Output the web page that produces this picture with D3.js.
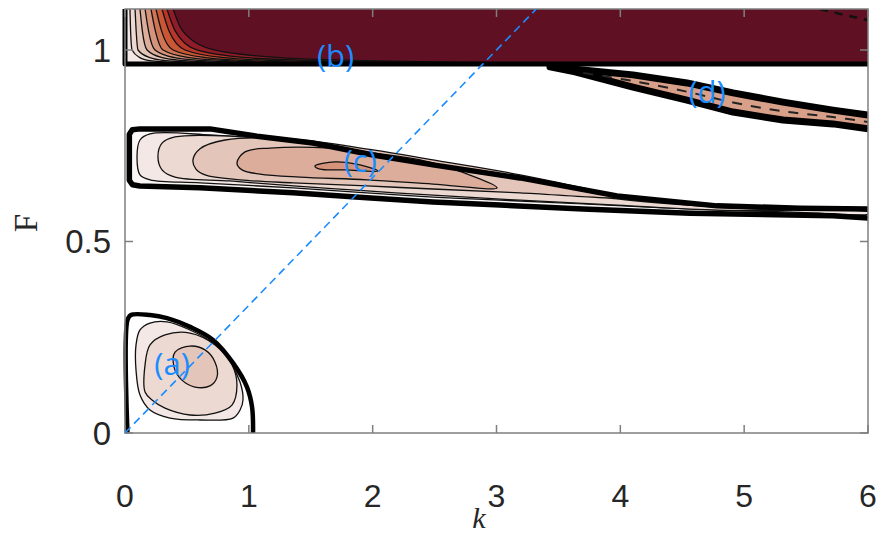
<!DOCTYPE html>
<html><head><meta charset="utf-8">
<script src="https://cdn.jsdelivr.net/npm/d3@7"></script>
<style>body{margin:0;background:#fff}</style>
</head><body><svg id="chart" width="883" height="535"></svg>
<script>
// ---------- data ----------
const kTicks = [0, 1, 2, 3, 4, 5, 6];
const fTicks = [0, 0.5, 1];
const fTickLabels = ["0", "0.5", "1"];
const kDomain = [0, 6];
const fDomain = [0, 1.107];
const levelColors = ["#ffffff", "#f3e8e5", "#ecd9d2", "#e4c5b9", "#dcad9b", "#d5937b",
                     "#cf7454", "#c95634", "#b8362a", "#901c2a", "#5f1022"];

// region (b): band of high values near F ~ 1
const bandBBottom = 0.9635;
const bandBCurves = [
  [[0.040,1.107],[0.045,1.05],[0.057,1.0],[0.12,0.98],[0.2,0.972],[0.4,0.967]],
  [[0.081,1.107],[0.09,1.05],[0.105,1.0],[0.2,0.98],[0.33,0.972],[0.6,0.967]],
  [[0.121,1.107],[0.14,1.05],[0.178,1.0],[0.3,0.98],[0.48,0.972],[0.8,0.967]],
  [[0.162,1.107],[0.19,1.05],[0.242,1.0],[0.4,0.98],[0.64,0.972],[1.05,0.967]],
  [[0.210,1.107],[0.245,1.05],[0.307,1.0],[0.52,0.98],[0.82,0.972],[1.3,0.967]],
  [[0.250,1.107],[0.295,1.05],[0.388,1.0],[0.65,0.98],[1.0,0.972],[1.6,0.967]],
  [[0.299,1.107],[0.355,1.05],[0.485,1.0],[0.8,0.98],[1.25,0.972],[2.0,0.967]],
  [[0.339,1.107],[0.405,1.05],[0.581,1.0],[0.98,0.98],[1.55,0.972],[2.5,0.967]],
  [[0.388,1.107],[0.465,1.05],[0.72,1.0],[1.25,0.98],[1.95,0.972],[3.0,0.967]]
];
const bandBLevels = [2, 3, 4, 5, 6, 7, 8, 9, 10];
const bandBDash = [[5.613,1.107],[5.8,1.092],[6.0,1.078]];

// region (c): tongue (outer boundary: bottom edge right->left, left side, top edge left->right)
const regionCOuter = [
  [6.0,0.561],[5.717,0.567],[4.563,0.574],[3.699,0.585],[3.028,0.595],[2.487,0.603],
  [1.954,0.614],[1.357,0.627],[0.606,0.640],[0.12,0.645],[0.06,0.648],[0.035,0.660],
  [0.035,0.780],[0.06,0.792],[0.12,0.794],[0.686,0.794],[1.066,0.775],[1.518,0.757],
  [2.003,0.726],[2.487,0.700],[3.190,0.666],[3.973,0.619],[4.781,0.593],[5.451,0.587],[6.0,0.585]
];
const regionCLevels = [
  [[0.097,0.721],[0.121,0.765],[0.202,0.781],[0.686,0.778],[1.413,0.757],[2.003,0.723],
   [2.487,0.695],[3.190,0.661],[3.973,0.614],[4.781,0.590],[5.451,0.582],[6.0,0.577],
   [6.0,0.572],[5.451,0.576],[4.563,0.585],[3.699,0.598],[3.028,0.608],[2.487,0.616],
   [1.954,0.627],[1.357,0.640],[0.606,0.653],[0.202,0.661],[0.121,0.674]],
  [[0.266,0.721],[0.299,0.757],[0.404,0.773],[0.848,0.775],[1.413,0.755],[2.003,0.718],
   [2.487,0.689],[3.190,0.653],[3.973,0.611],[4.781,0.590],[5.394,0.582],[4.781,0.582],
   [3.973,0.595],[3.190,0.608],[2.487,0.621],[1.954,0.632],[1.357,0.645],[0.848,0.658],
   [0.404,0.668],[0.299,0.687]],
  [[0.549,0.713],[0.606,0.742],[0.808,0.765],[1.332,0.768],[2.003,0.739],[2.487,0.713],
   [3.190,0.674],[3.973,0.616],[3.190,0.627],[2.487,0.637],[1.954,0.645],[1.357,0.653],
   [0.929,0.661],[0.646,0.674],[0.573,0.689]],
  [[0.904,0.705],[0.969,0.734],[1.171,0.744],[1.656,0.744],[2.003,0.731],[2.487,0.705],
   [3.004,0.640],[2.487,0.650],[1.954,0.661],[1.413,0.668],[1.090,0.676],[0.945,0.687]],
  [[1.534,0.697],[1.696,0.708],[1.898,0.700],[2.043,0.684],[1.777,0.687],[1.575,0.689]]
];
const regionCFill = [1, 2, 3, 4, 5];

// region (d): thin band upper right (lower edge right->left, tip, upper edge left->right)
const regionD = [
  [6.0,0.794],[5.717,0.807],[5.314,0.817],[4.910,0.838],[4.538,0.869],[4.102,0.903],[3.634,0.943],
  [3.432,0.956],[4.102,0.935],[4.538,0.914],[4.910,0.888],[5.314,0.864],[5.717,0.843],[6.0,0.830]
];
const regionDMid = [[3.7,0.94],[4.102,0.919],[4.538,0.891],[4.910,0.863],[5.314,0.840],[5.717,0.825],[6.0,0.812]];

// region (a): near origin
const regionAOuter = [
  [0.02,0],[0.02,0.295],[0.048,0.308],[0.202,0.308],[0.339,0.300],[0.525,0.277],
  [0.711,0.243],[0.872,0.183],[0.985,0.120],[1.026,0.068],[1.034,0]
];
const regionALevels = [
  [[0.089,0.164],[0.089,0.230],[0.121,0.269],[0.202,0.287],[0.339,0.290],[0.525,0.269],
   [0.711,0.235],[0.848,0.185],[0.929,0.133],[0.953,0.086],[0.929,0.060],[0.872,0.039],
   [0.606,0.034],[0.363,0.039],[0.202,0.060],[0.121,0.099]],
  [[0.162,0.107],[0.162,0.178],[0.202,0.230],[0.323,0.256],[0.525,0.261],[0.727,0.230],
   [0.864,0.178],[0.904,0.125],[0.864,0.073],[0.727,0.052],[0.525,0.047],[0.323,0.065],
   [0.218,0.086]],
  [[0.396,0.172],[0.404,0.211],[0.525,0.227],[0.646,0.217],[0.727,0.185],[0.743,0.146],
   [0.686,0.123],[0.565,0.120],[0.460,0.138]]
];
const regionAFill = [1, 2, 3];

// dashed guide line F = k/3
const guideLine = [[0, 0], [3.321, 1.107]];

// labels
const regionLabels = [
  {text: "(a)", k: 0.38, F: 0.152},
  {text: "(b)", k: 1.7, F: 0.955},
  {text: "(c)", k: 1.9, F: 0.682},
  {text: "(d)", k: 4.7, F: 0.862}
];

// ---------- drawing ----------
const svg = d3.select("#chart");
const x = d3.scaleLinear().domain(kDomain).range([125, 868]);
const y = d3.scaleLinear().domain(fDomain).range([433, 9]);
const x0 = x.range()[0], x1 = x.range()[1], y0 = y.range()[0], y1 = y.range()[1];

const defs = svg.append("defs");
defs.append("clipPath").attr("id", "clip").append("rect")
  .attr("x", x0 - 3).attr("y", y1).attr("width", x1 - x0 + 3).attr("height", y0 - y1);
defs.append("clipPath").attr("id", "clipIn").append("rect")
  .attr("x", x0).attr("y", y1).attr("width", x1 - x0).attr("height", y0 - y1);

const g = svg.append("g").attr("clip-path", "url(#clip)");

const lineOpen = d3.line().x(d => x(d[0])).y(d => y(d[1]));
const lineSmooth = d3.line().x(d => x(d[0])).y(d => y(d[1])).curve(d3.curveMonotoneX);
const closedSmooth = d3.line().x(d => x(d[0])).y(d => y(d[1])).curve(d3.curveCatmullRomClosed.alpha(0.5));
const closedLinear = d3.line().x(d => x(d[0])).y(d => y(d[1])).curve(d3.curveLinearClosed);
const openSmooth = d3.line().x(d => x(d[0])).y(d => y(d[1])).curve(d3.curveCatmullRom.alpha(0.5));

// region (b)
g.append("rect").attr("x", x(0)).attr("y", y(fDomain[1]))
  .attr("width", x(6) - x(0)).attr("height", y(bandBBottom) - y(fDomain[1]))
  .attr("fill", levelColors[1]);
const areaAbove = d3.area().x(d => x(d[0])).y0(y(fDomain[1])).y1(d => y(d[1])).curve(d3.curveMonotoneX);
bandBCurves.forEach((c, i) => {
  const pts = c.concat([[6, c[c.length - 1][1]]]);
  g.append("path").attr("d", areaAbove(pts)).attr("fill", levelColors[bandBLevels[i]]);
});
bandBCurves.forEach((c) => {
  g.append("path").attr("d", lineSmooth(c)).attr("fill", "none")
    .attr("stroke", "#111").attr("stroke-width", 1.3);
});
g.append("path").attr("d", lineOpen(bandBDash)).attr("fill", "none")
  .attr("stroke", "#111").attr("stroke-width", 2.5).attr("stroke-dasharray", "8,7");
g.append("path").attr("d", lineOpen([[0, fDomain[1]], [0, bandBBottom], [6, bandBBottom]]))
  .attr("fill", "none").attr("stroke", "#000").attr("stroke-width", 5).attr("stroke-linejoin", "round");

// region (c)
g.append("path").attr("d", closedLinear(regionCOuter)).attr("fill", "#fbf7f6");
regionCLevels.forEach((p, i) => {
  g.append("path").attr("d", closedSmooth(p)).attr("fill", levelColors[regionCFill[i]])
    .attr("stroke", "#111").attr("stroke-width", 1.3);
});
g.append("path").attr("d", lineOpen(regionCOuter)).attr("fill", "none")
  .attr("stroke", "#000").attr("stroke-width", 5.5).attr("stroke-linejoin", "round");

// region (d)
g.append("path").attr("d", closedLinear(regionD)).attr("fill", "#d9a089");
g.append("path").attr("d", lineOpen(regionD)).attr("fill", "none")
  .attr("stroke", "#000").attr("stroke-width", 7).attr("stroke-linejoin", "round");
g.append("path").attr("d", openSmooth(regionDMid)).attr("fill", "none")
  .attr("stroke", "#222").attr("stroke-width", 2).attr("stroke-dasharray", "10,9");

// region (a)
regionALevels.forEach((p, i) => {
  g.append("path").attr("d", closedSmooth(p)).attr("fill", levelColors[regionAFill[i]])
    .attr("stroke", "#111").attr("stroke-width", 1.3);
});
g.append("path").attr("d", openSmooth(regionAOuter)).attr("fill", "none")
  .attr("stroke", "#000").attr("stroke-width", 4.5).attr("stroke-linejoin", "round");

// ---------- axes ----------
const axisColor = "#7f7f7f";
const ax = svg.append("g");
ax.append("rect").attr("x", x0).attr("y", y1).attr("width", x1 - x0).attr("height", y0 - y1)
  .attr("fill", "none").attr("stroke", axisColor).attr("stroke-width", 1.5);
const tickLen = 8;
kTicks.forEach(k => {
  ax.append("line").attr("x1", x(k)).attr("x2", x(k)).attr("y1", y0).attr("y2", y0 - tickLen)
    .attr("stroke", axisColor).attr("stroke-width", 1.5);
  ax.append("line").attr("x1", x(k)).attr("x2", x(k)).attr("y1", y1).attr("y2", y1 + tickLen)
    .attr("stroke", axisColor).attr("stroke-width", 1.5);
  ax.append("text").attr("x", x(k)).attr("y", 507).attr("text-anchor", "middle")
    .attr("font-family", "Liberation Sans, Arial, sans-serif").attr("font-size", 32)
    .attr("fill", "#262626").text(k);
});
fTicks.forEach((f, i) => {
  ax.append("line").attr("x1", x0).attr("x2", x0 + tickLen).attr("y1", y(f)).attr("y2", y(f))
    .attr("stroke", axisColor).attr("stroke-width", 1.5);
  ax.append("line").attr("x1", x1).attr("x2", x1 - tickLen).attr("y1", y(f)).attr("y2", y(f))
    .attr("stroke", axisColor).attr("stroke-width", 1.5);
  ax.append("text").attr("x", x0 - 14).attr("y", y(f)).attr("dy", "0.36em").attr("text-anchor", "end")
    .attr("font-family", "Liberation Sans, Arial, sans-serif").attr("font-size", 33)
    .attr("fill", "#262626").text(fTickLabels[i]);
});
svg.append("text").attr("x", 479).attr("y", 528).attr("text-anchor", "middle")
  .attr("font-family", "Liberation Serif, Times New Roman, serif").attr("font-style", "italic")
  .attr("font-size", 30).attr("fill", "#262626").text("k");
svg.append("text").attr("transform", `translate(37,${(y0 + y1) / 2 + 2}) rotate(-90)`)
  .attr("text-anchor", "middle")
  .attr("font-family", "Liberation Serif, Times New Roman, serif")
  .attr("font-size", 33).attr("fill", "#262626").text("F");

// ---------- guide line and labels ----------
const blue = "#1a8cff";
svg.append("g").attr("clip-path", "url(#clipIn)").append("path")
  .attr("d", lineOpen(guideLine)).attr("fill", "none")
  .attr("stroke", blue).attr("stroke-width", 1.6).attr("stroke-dasharray", "8,5");
regionLabels.forEach(l => {
  svg.append("text").attr("x", x(l.k)).attr("y", y(l.F)).attr("text-anchor", "middle")
    .attr("font-family", "Open Sans, Liberation Sans, sans-serif").attr("font-size", 31)
    .attr("fill", blue).text(l.text);
});
</script></body></html>
